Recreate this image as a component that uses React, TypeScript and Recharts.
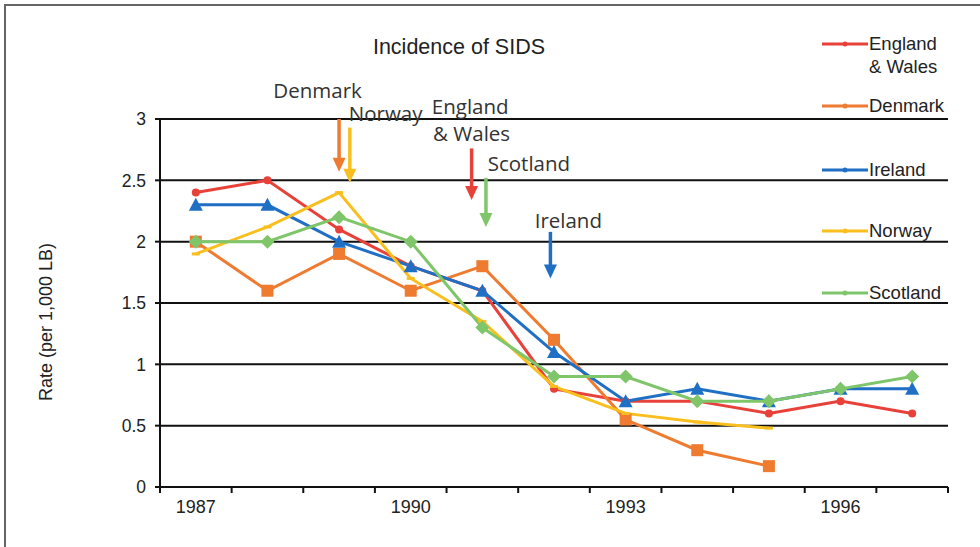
import React from "react";
import {
  LineChart,
  Line,
  XAxis,
  YAxis,
  CartesianGrid,
  ReferenceLine,
  ReferenceDot,
} from "recharts";

const years = [1987, 1988, 1989, 1990, 1991, 1992, 1993, 1994, 1995, 1996, 1997];
const englandWales = [2.4, 2.5, 2.1, 1.8, 1.6, 0.8, 0.7, 0.7, 0.6, 0.7, 0.6];
const denmark = [2.0, 1.6, 1.9, 1.6, 1.8, 1.2, 0.55, 0.3, 0.17, null, null];
const ireland = [2.3, 2.3, 2.0, 1.8, 1.6, 1.1, 0.7, 0.8, 0.7, 0.8, 0.8];
const norway = [1.9, 2.12, 2.4, 1.7, 1.35, 0.82, 0.6, 0.53, 0.48, null, null];
const scotland = [2.0, 2.0, 2.2, 2.0, 1.3, 0.9, 0.9, 0.7, 0.7, 0.8, 0.9];

const yTicks = [0, 0.5, 1, 1.5, 2, 2.5, 3];
const labelYears = [1987, 1990, 1993, 1996];
const boundaryTicks = [1986.5, 1987.5, 1988.5, 1989.5, 1990.5, 1991.5, 1992.5, 1993.5, 1994.5, 1995.5, 1996.5, 1997.5];

// intervention arrows (year, from rate, to rate)
const arrows = [
  { key: "dk", x: 1989.0, y1: 3.0, y2: 2.57, color: "#EE7B30" },
  { key: "no", x: 1989.15, y1: 2.93, y2: 2.48, color: "#F9BF1E" },
  { key: "ew", x: 1990.85, y1: 2.76, y2: 2.34, color: "#E8413A" },
  { key: "sc", x: 1991.05, y1: 2.52, y2: 2.12, color: "#7FC56A" },
  { key: "ie", x: 1991.95, y1: 2.08, y2: 1.7, color: "#1F6FC5" },
];

const notes = [
  { text: "Denmark", x: 1988.7, y: 3.17 },
  { text: "Norway", x: 1989.65, y: 2.98 },
  { text: "England", x: 1990.83, y: 3.04 },
  { text: "& Wales", x: 1990.85, y: 2.82 },
  { text: "Scotland", x: 1991.65, y: 2.58 },
  { text: "Ireland", x: 1992.2, y: 2.11 },
];

const series = [
  { key: "England & Wales", label: ["England", "& Wales"], values: englandWales, color: "#E8413A", marker: "dot", top: 44 },
  { key: "Denmark", label: ["Denmark"], values: denmark, color: "#EE7B30", marker: "square", top: 106 },
  { key: "Ireland", label: ["Ireland"], values: ireland, color: "#1F6FC5", marker: "triangle", top: 170 },
  { key: "Norway", label: ["Norway"], values: norway, color: "#F9BF1E", marker: "dash", top: 231 },
  { key: "Scotland", label: ["Scotland"], values: scotland, color: "#7FC56A", marker: "diamond", top: 293 },
];

const data = years.map((year, i) => {
  const row: any = { year };
  series.forEach((s) => {
    row[s.key] = s.values[i];
  });
  return row;
});

const AXIS_FONT = "'Liberation Sans', Arial, sans-serif";
const NOTE_FONT = "'Open Sans', 'Noto Sans', sans-serif";

const makeDot = (marker: string, color: string) => (props: any) => {
  const { cx, cy, index } = props;
  if (cx == null || cy == null || props.value == null) return <g key={index} />;
  if (marker === "square")
    return <rect key={index} x={cx - 6} y={cy - 6} width={12} height={12} fill={color} />;
  if (marker === "triangle")
    return (
      <polygon key={index} points={`${cx},${cy - 7} ${cx + 7},${cy + 6} ${cx - 7},${cy + 6}`} fill={color} />
    );
  if (marker === "diamond")
    return (
      <polygon key={index} points={`${cx},${cy - 7} ${cx + 7},${cy} ${cx},${cy + 7} ${cx - 7},${cy}`} fill={color} />
    );
  if (marker === "dash")
    return <rect key={index} x={cx - 4} y={cy - 1.5} width={8} height={3} fill={color} />;
  return <circle key={index} cx={cx} cy={cy} r={4} fill={color} />;
};

const XTick = (props: any) => {
  const { x, y, payload } = props;
  const v = payload.value;
  if (v % 1 !== 0) {
    return <line x1={x} y1={y} x2={x} y2={y + 6} stroke="#111" strokeWidth={2} />;
  }
  return (
    <text x={x} y={y + 26} textAnchor="middle" fontSize={18} fontFamily={AXIS_FONT} fill="#222">
      {v}
    </text>
  );
};

const ArrowShape = (color: string) => (props: any) => {
  const { x1, y1, x2, y2 } = props;
  return (
    <g>
      <line x1={x1} y1={y1} x2={x2} y2={y2 - 12} stroke={color} strokeWidth={3.5} />
      <polygon points={`${x2 - 6.5},${y2 - 14} ${x2 + 6.5},${y2 - 14} ${x2},${y2}`} fill={color} />
    </g>
  );
};

const NoteShape = (text: string) => (props: any) => (
  <text x={props.cx} y={props.cy} textAnchor="middle" fontSize={20.5} fontFamily={NOTE_FONT} fill="#333">
    {text}
  </text>
);

const LegendBox = () => (
  <div style={{ position: "absolute", left: 822, top: 0, width: 158, height: 320 }}>
    {series.map((s) => (
      <div key={s.key} style={{ position: "absolute", left: 0, top: s.top }}>
        <svg width={48} height={10} style={{ position: "absolute", left: 0, top: -5 }}>
          <line x1={0} y1={5} x2={46} y2={5} stroke={s.color} strokeWidth={3} />
          <circle cx={23} cy={5} r={2.5} fill={s.color} />
        </svg>
        <div
          style={{
            position: "absolute",
            left: 47,
            top: -12,
            fontFamily: AXIS_FONT,
            fontSize: 18.5,
            lineHeight: "23px",
            color: "#222",
            whiteSpace: "nowrap",
          }}
        >
          {s.label.map((l) => (
            <div key={l}>{l}</div>
          ))}
        </div>
      </div>
    ))}
  </div>
);

const YLabel = (props: any) => {
  const { viewBox } = props;
  const cx = 47;
  const cy = viewBox.y + viewBox.height / 2 + 19;
  return (
    <text
      x={cx}
      y={cy}
      transform={`rotate(-90 ${cx} ${cy})`}
      textAnchor="middle"
      dominantBaseline="middle"
      fontSize={18}
      fontFamily={AXIS_FONT}
      fill="#222"
    >
      Rate (per 1,000 LB)
    </text>
  );
};

export default function App() {
  return (
    <div style={{ position: "absolute", left: 0, top: 0, width: 980, height: 547, background: "#fff", overflow: "hidden" }}>
      <div
        style={{
          position: "absolute",
          left: 4,
          top: 4,
          width: 990,
          height: 560,
          borderLeft: "2px solid #666",
          borderTop: "2px solid #666",
        }}
      />
      <div
        style={{
          position: "absolute",
          left: 309,
          top: 35,
          width: 300,
          textAlign: "center",
          fontFamily: AXIS_FONT,
          fontSize: 21.5,
          color: "#222",
        }}
      >
        Incidence of SIDS
      </div>
      <LineChart
        width={980}
        height={547}
        data={data}
        margin={{ top: 119, right: 32, bottom: 30, left: 0 }}
        style={{ position: "absolute", left: 0, top: 0 }}
      >
        <CartesianGrid horizontal vertical={false} stroke="#111" strokeWidth={2} />
        <XAxis
          dataKey="year"
          type="number"
          domain={[1986.5, 1997.5]}
          ticks={[...boundaryTicks, ...labelYears]}
          interval={0}
          tickLine={false}
          tickSize={0}
          tickMargin={0}
          height={30}
          axisLine={{ stroke: "#111", strokeWidth: 2 }}
          tick={<XTick />}
        />
        <YAxis
          type="number"
          domain={[0, 3]}
          ticks={yTicks}
          interval={0}
          width={160}
          tickSize={5}
          tickMargin={9}
          axisLine={{ stroke: "#111", strokeWidth: 2 }}
          tickLine={{ stroke: "#111", strokeWidth: 2 }}
          tick={{ fontSize: 17.5, fontFamily: AXIS_FONT, fill: "#222" }}
          label={<YLabel />}
        />
        {series.map((s) => (
          <Line
            key={s.key}
            dataKey={s.key}
            type="linear"
            stroke={s.color}
            strokeWidth={3}
            dot={makeDot(s.marker, s.color)}
            activeDot={false}
            isAnimationActive={false}
          />
        ))}
        {arrows.map((a) => (
          <ReferenceLine
            key={a.key}
            segment={[
              { x: a.x, y: a.y1 },
              { x: a.x, y: a.y2 },
            ]}
            ifOverflow="visible"
            shape={ArrowShape(a.color)}
          />
        ))}
        {notes.map((n) => (
          <ReferenceDot key={n.text} x={n.x} y={n.y} r={0} ifOverflow="visible" shape={NoteShape(n.text)} />
        ))}
      </LineChart>
      <LegendBox />
    </div>
  );
}
